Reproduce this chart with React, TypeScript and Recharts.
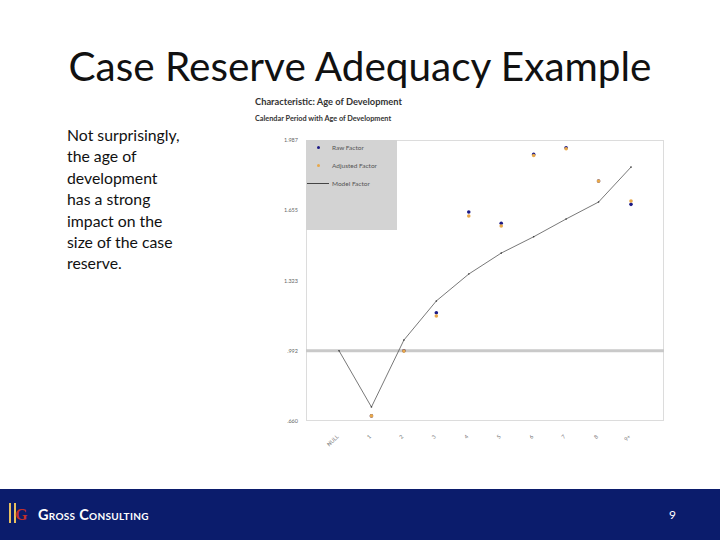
import React from 'react';
import {
  ComposedChart,
  Line,
  Scatter,
  XAxis,
  YAxis,
  ReferenceLine,
} from 'recharts';

const categories = ['NULL', '1', '2', '3', '4', '5', '6', '7', '8', '9+'];
const rawFactor = [null, 0.684, 0.992, 1.171, 1.647, 1.594, 1.919, 1.95, 1.793, 1.683];
const adjustedFactor = [null, 0.684, 0.99, 1.156, 1.628, 1.581, 1.914, 1.946, 1.793, 1.699];
const modelFactor = [0.992, 0.726, 1.042, 1.227, 1.354, 1.453, 1.53, 1.614, 1.694, 1.859];
const yTicks = [0.66, 0.992, 1.323, 1.655, 1.987];
const yTickLabels = ['.660', '.992', '1.323', '1.655', '1.987'];
const legendLabels = ['Raw Factor', 'Adjusted Factor', 'Model Factor'];
const bodyLines = [
  'Not surprisingly,',
  'the age of',
  'development',
  'has a strong',
  'impact on the',
  'size of the case',
  'reserve.',
];
const baseline = 0.992;

const chartData = categories.map((c, i) => ({
  name: c,
  raw: rawFactor[i],
  adjusted: adjustedFactor[i],
  model: modelFactor[i],
}));

const NAVY = '#1c1a86';
const ORANGE = '#e8a84a';

function LegendBox() {
  const row = { display: 'flex', alignItems: 'center', height: 18, fontSize: 6.5, color: '#555' };
  const mark = { width: 24, display: 'flex', justifyContent: 'center', alignItems: 'center' };
  return (
    <div
      style={{
        position: 'absolute',
        left: 306,
        top: 140,
        width: 91,
        height: 90,
        background: '#d3d3d3',
      }}
    >
      <div style={{ position: 'absolute', left: 0, top: -2 }}>
        <div style={row}>
          <div style={mark}>
            <span style={{ width: 3, height: 3, borderRadius: 2, background: NAVY }} />
          </div>
          <span style={{ marginLeft: 2 }}>{legendLabels[0]}</span>
        </div>
        <div style={row}>
          <div style={mark}>
            <span style={{ width: 3, height: 3, borderRadius: 2, background: ORANGE }} />
          </div>
          <span style={{ marginLeft: 2 }}>{legendLabels[1]}</span>
        </div>
        <div style={row}>
          <div style={mark}>
            <span style={{ width: 22, height: 1, background: '#444' }} />
          </div>
          <span style={{ marginLeft: 2 }}>{legendLabels[2]}</span>
        </div>
      </div>
    </div>
  );
}

function XTick(props: any) {
  const { x, y, payload } = props;
  return (
    <text
      x={x}
      y={y + 8}
      transform={`rotate(-45 ${x} ${y + 8})`}
      textAnchor="end"
      fontSize={5.5}
      fill="#777"
      fontFamily="Lato, sans-serif"
    >
      {payload.value}
    </text>
  );
}

const dotShape = (color: string) => (p: any) =>
  p.cx != null && p.cy != null && !isNaN(p.cy) ? (
    <circle cx={p.cx} cy={p.cy} r={1.8} fill={color} />
  ) : (
    <g />
  );

export default function App() {
  return (
    <div
      style={{
        position: 'absolute',
        left: 0,
        top: 0,
        width: 720,
        height: 540,
        background: '#fff',
        overflow: 'hidden',
        fontFamily: 'Lato, sans-serif',
      }}
    >
      <div
        style={{
          position: 'absolute',
          left: 0,
          width: 720,
          top: 41,
          textAlign: 'center',
          fontSize: 40.5,
          color: '#111',
          lineHeight: '50px',
        }}
      >
        Case Reserve Adequacy Example
      </div>
      <div
        style={{
          position: 'absolute',
          left: 67,
          top: 124,
          fontSize: 15.8,
          lineHeight: '21.4px',
          color: '#111',
          whiteSpace: 'nowrap',
        }}
      >
        {bodyLines.map((l) => (
          <div key={l}>{l}</div>
        ))}
      </div>
      <div
        style={{
          position: 'absolute',
          left: 255,
          top: 96,
          fontSize: 9.3,
          fontWeight: 700,
          color: '#333',
        }}
      >
        Characteristic: Age of Development
      </div>
      <div
        style={{
          position: 'absolute',
          left: 255,
          top: 114,
          fontSize: 7.3,
          fontWeight: 700,
          color: '#333',
        }}
      >
        Calendar Period with Age of Development
      </div>
      <div
        style={{
          position: 'absolute',
          left: 306,
          top: 140,
          width: 358,
          height: 281,
          border: '1px solid #dcdcdc',
          boxSizing: 'border-box',
        }}
      />
      <div style={{ position: 'absolute', left: 250, top: 130 }}>
        <ComposedChart
          width={430}
          height={320}
          data={chartData}
          margin={{ top: 10, right: 16, left: 0, bottom: 0 }}
        >
          <XAxis
            dataKey="name"
            type="category"
            padding={{ left: 33, right: 33 }}
            axisLine={false}
            tickLine={false}
            height={29}
            interval={0}
            tick={<XTick />}
          />
          <YAxis
            domain={[0.66, 1.987]}
            ticks={yTicks}
            width={56}
            axisLine={false}
            tickLine={false}
            tickFormatter={(v: number) => yTickLabels[yTicks.indexOf(v)] ?? ''}
            tick={{ fontSize: 5.5, fill: '#666' }}
          />
          <ReferenceLine y={baseline} stroke="#c9c9c9" strokeWidth={3} />
          <Line
            dataKey="model"
            stroke="#555"
            strokeWidth={0.8}
            dot={{ r: 0.8, fill: '#333', stroke: 'none' }}
            isAnimationActive={false}
          />
          <Scatter dataKey="raw" fill={NAVY} shape={dotShape(NAVY)} isAnimationActive={false} />
          <Scatter dataKey="adjusted" fill={ORANGE} shape={dotShape(ORANGE)} isAnimationActive={false} />
        </ComposedChart>
      </div>
      <LegendBox />
      <div
        style={{
          position: 'absolute',
          left: 0,
          top: 489,
          width: 720,
          height: 51,
          background: '#0b1c6c',
        }}
      >
        <div style={{ position: 'absolute', left: 7, top: 14, width: 22, height: 22 }}>
          <span style={{ position: 'absolute', left: 2, top: 0, width: 2, height: 20, background: '#e8c060' }} />
          <span style={{ position: 'absolute', left: 7, top: 0, width: 2, height: 20, background: '#e8c060' }} />
          <span
            style={{
              position: 'absolute',
              left: 8,
              top: 4,
              fontSize: 16,
              fontWeight: 700,
              color: '#c0302a',
              fontFamily: 'Liberation Serif, serif',
              lineHeight: '16px',
            }}
          >
            G
          </span>
        </div>
        <div
          style={{
            position: 'absolute',
            left: 38,
            top: 17,
            fontSize: 14.5,
            fontWeight: 700,
            color: '#fff',
            fontVariant: 'small-caps',
            letterSpacing: 0.3,
          }}
        >
          Gross Consulting
        </div>
        <div style={{ position: 'absolute', left: 669, top: 18, fontSize: 12, color: '#fff' }}>9</div>
      </div>
    </div>
  );
}
